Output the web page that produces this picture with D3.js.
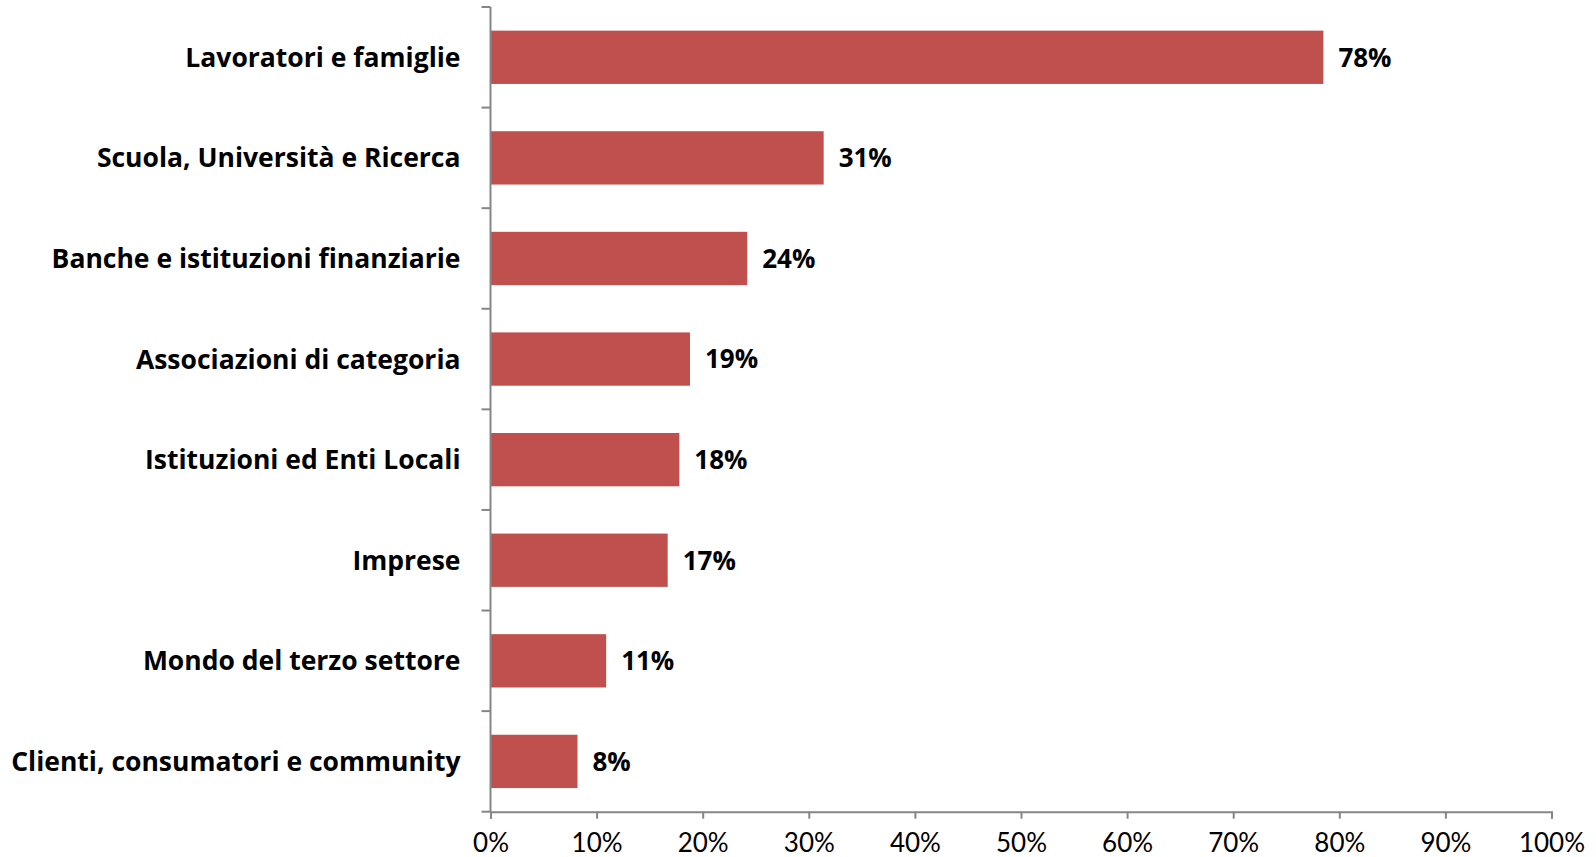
<!DOCTYPE html>
<meta charset="utf-8">
<script src="https://d3js.org/d3.v7.min.js"></script>
<style>
  body { margin: 0; background: #fff; }
  text { font-family: Lato, "Open Sans", sans-serif; }
</style>
<div id="chart"></div>
<script>
// categories and values (percent)
const categories = [
  "Lavoratori e famiglie",
  "Scuola, Università e Ricerca",
  "Banche e istituzioni finanziarie",
  "Associazioni di categoria",
  "Istituzioni ed Enti Locali",
  "Imprese",
  "Mondo del terzo settore",
  "Clienti, consumatori e community"
];
const values = [78.5, 31.4, 24.2, 18.8, 17.8, 16.7, 10.9, 8.2];
const valueLabels = ["78%", "31%", "24%", "19%", "18%", "17%", "11%", "8%"];
const xTicks = [0, 10, 20, 30, 40, 50, 60, 70, 80, 90, 100];

const W = 1596, H = 857;
const margin = {top: 7, right: 44.5, bottom: 45.3, left: 490.5},
      width = W - margin.left - margin.right,
      height = H - margin.top - margin.bottom;

const svg = d3.select("#chart")
  .append("svg")
  .attr("width", W)
  .attr("height", H)
  .append("g")
  .attr("transform", `translate(${margin.left}, ${margin.top})`);

const data = categories.map((c, i) => ({cat: c, v: values[i], lab: valueLabels[i]}));

const x = d3.scaleLinear().domain([0, 100]).range([0, width]);
const y = d3.scaleBand().domain(categories).range([0, height]).paddingInner(0.47).paddingOuter(0.235);

const axisColor = "#868686";
const boldFont = "'Open Sans', Lato, sans-serif";

// bars
svg.append("g")
  .selectAll("rect")
  .data(data)
  .join("rect")
    .attr("x", 0)
    .attr("y", d => y(d.cat))
    .attr("width", d => x(d.v))
    .attr("height", y.bandwidth())
    .attr("fill", "#C0504D");

// value labels
svg.append("g")
  .selectAll("text")
  .data(data)
  .join("text")
    .attr("x", d => x(d.v) + 15)
    .attr("y", d => y(d.cat) + y.bandwidth() / 2)
    .attr("dy", "0.36em")
    .style("font-family", boldFont)
    .style("font-size", "26px")
    .style("font-weight", "bold")
    .style("fill", "#000")
    .text(d => d.lab);

// y axis: line + ticks at category boundaries
const step = height / categories.length;
const yAxis = svg.append("g");
yAxis.append("line")
  .attr("x1", 0).attr("x2", 0).attr("y1", 0).attr("y2", height)
  .attr("stroke", axisColor).attr("stroke-width", 2);
yAxis.selectAll("line.tick")
  .data(d3.range(categories.length + 1))
  .join("line")
    .attr("class", "tick")
    .attr("x1", -9).attr("x2", 0)
    .attr("y1", i => i * step).attr("y2", i => i * step)
    .attr("stroke", axisColor).attr("stroke-width", 2);
yAxis.selectAll("text")
  .data(categories)
  .join("text")
    .attr("x", -30)
    .attr("y", d => y(d) + y.bandwidth() / 2)
    .attr("dy", "0.36em")
    .attr("text-anchor", "end")
    .style("font-family", boldFont)
    .style("font-size", "26.5px")
    .style("font-weight", "bold")
    .style("fill", "#000")
    .text(d => d);

// x axis
const xAxis = svg.append("g")
  .attr("transform", `translate(0, ${height})`)
  .call(d3.axisBottom(x).tickValues(xTicks).tickFormat(d => d + "%").tickSize(7).tickPadding(15));
xAxis.select(".domain").attr("stroke", axisColor).attr("stroke-width", 2);
xAxis.selectAll(".tick line").attr("stroke", axisColor).attr("stroke-width", 2);
xAxis.selectAll(".tick text")
  .style("font-size", "26px")
  .style("font-family", "Lato, 'Open Sans', sans-serif")
  .style("fill", "#000");
</script>
